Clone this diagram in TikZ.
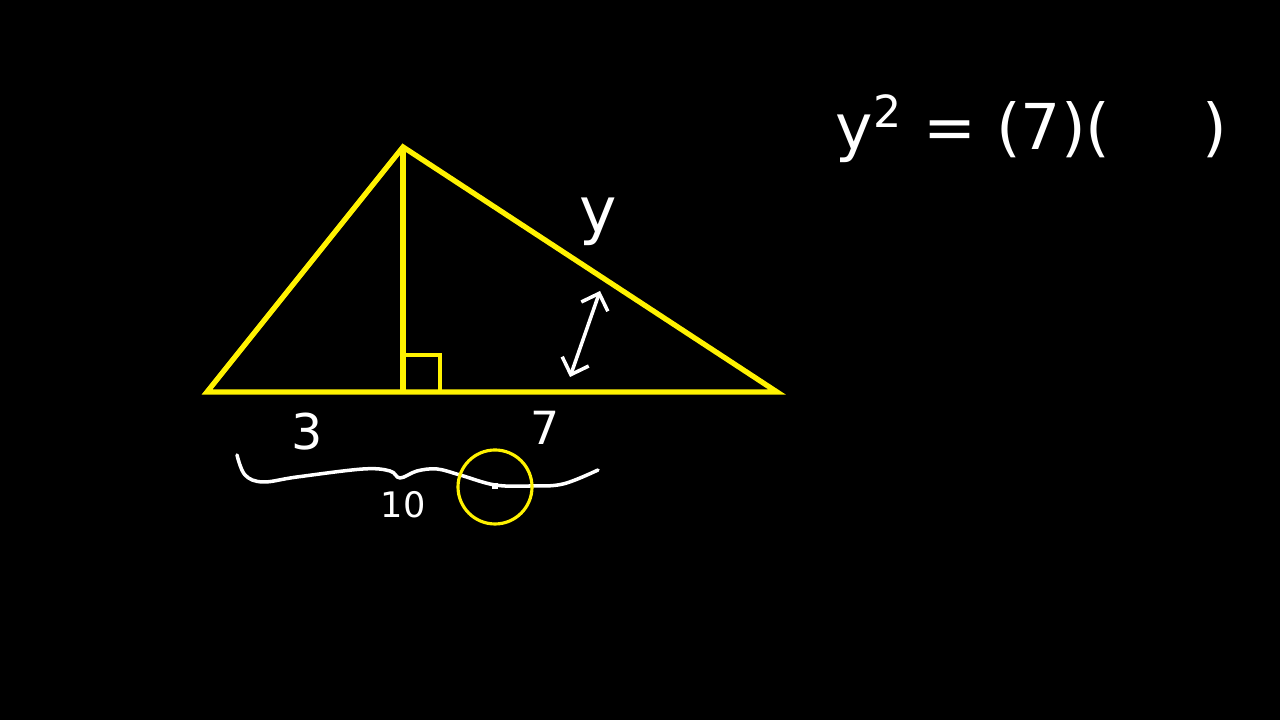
\documentclass[tikz,border=0pt]{standalone}
\usepackage{fontspec}
\setmainfont{DejaVu Sans}
\usetikzlibrary{arrows.meta}

\tikzset{
    side/.style={draw=yellow, line width=1.5pt},
    chalk/.style={white, line width=1pt, line cap=round, line join=round},
    hand/.style={white, inner sep=0pt}
}

\begin{document}
\begin{tikzpicture}
    \fill[black] (0,0) rectangle (12.8,7.2);
    \useasboundingbox (0,0) rectangle (12.8,7.2);

    % triangle with its altitude
    \coordinate (A) at (2.07,3.28);
    \coordinate (B) at (4.03,5.73);
    \coordinate (C) at (7.77,3.28);
    \coordinate (D) at (4.03,3.28);
    \draw[side, line join=miter] (A) -- (B) -- (C) -- cycle;
    \draw[side] (B) -- (D);
    \draw[yellow, line width=1.1pt] (4.03,3.65) -- (4.40,3.65) -- (4.40,3.28);

    % labels
    \node[hand, font=\fontsize{18}{18}\selectfont] (ylab) at (5.98,4.98) {y};
    \node[hand, font=\fontsize{14}{14}\selectfont] (three) at (3.07,2.88) {3};
    \node[hand, font=\fontsize{13}{13}\selectfont] (seven) at (5.45,2.92) {7};
    \node[hand, font=\fontsize{10}{10}\selectfont] (ten) at (4.03,2.15) {10};

    % distance to the hypotenuse
    \coordinate (lo) at (5.70,3.43);
    \coordinate (hi) at (6.00,4.29);
    \draw[chalk, {Straight Barb[length=4pt]}-{Straight Barb[length=4pt]}] (lo) -- (hi);

    % brace under the base
    \draw[chalk] plot[smooth, tension=0.6] coordinates {
        (2.37,2.65) (2.45,2.45) (2.63,2.38) (2.97,2.43) (3.63,2.51)
        (3.90,2.49) (4.00,2.42) (4.17,2.49) (4.37,2.51) (4.60,2.45)
        (4.95,2.35) (5.30,2.34) (5.63,2.36) (5.98,2.50)};

    % pointer
    \node[draw=yellow, line width=0.9pt, circle, minimum size=0.74cm, inner sep=0pt] (pointer) at (4.95,2.33) {};
    \fill[white] (4.92,2.31) rectangle (4.98,2.37);

    % equation
    \node[hand, anchor=base west, font=\fontsize{18}{18}\selectfont] (eqleft) at (8.35,5.70) {y\textsuperscript{2} = (7)(};
    \node[hand, anchor=base, font=\fontsize{18}{18}\selectfont] (eqright) at (12.15,5.70) {)};
\end{tikzpicture}
\end{document}
